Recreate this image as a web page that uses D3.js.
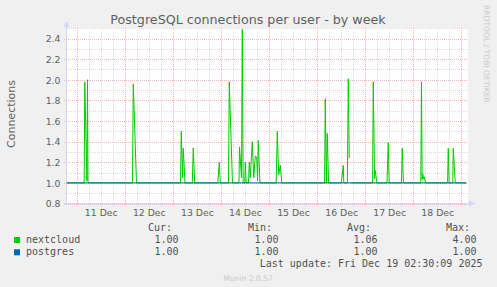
<!DOCTYPE html>
<html><head><meta charset="utf-8">
<script src="https://cdn.jsdelivr.net/npm/d3@7"></script>
<style>
html,body{margin:0;padding:0;background:#F0F0F0;}
svg{display:block;}
</style></head>
<body><svg id="c" width="497" height="287"></svg>
<script>
// ---- data (hours after 2025-12-11 00:00) ----
const nextcloudHours = [-5, 3.74, 4.04, 5.09, 5.39, 5.64, 27.85, 28.25, 29.85, 51.81, 52.21, 52.86, 53.21, 54.06, 57.70, 58.20, 58.90, 70.43, 71.18, 71.68, 75.77, 76.17, 77.77, 81.02, 81.27, 82.26, 82.66, 83.11, 83.91, 84.16, 84.61, 85.76, 86.16, 86.66, 87.66, 88.40, 89.15, 89.85, 90.30, 90.65, 91.50, 99.58, 100.13, 100.83, 101.63, 102.38, 123.75, 124.09, 124.64, 125.09, 125.74, 132.08, 133.08, 133.33, 135.13, 135.58, 136.08, 136.5, 137.0, 147.71, 148.06, 148.70, 149.05, 149.90, 154.89, 155.54, 155.99, 162.13, 162.53, 163.13, 171.77, 172.12, 172.46, 172.76, 173.16, 173.51, 174.11, 185.15, 185.50, 185.94, 187.74, 187.99, 188.99, 194.5];
const nextcloudValues = [1, 1, 1.98, 1.02, 2.00, 1, 1, 1.96, 1, 1, 1.50, 1.05, 1.335, 1, 1, 1.338, 1, 1, 1.20, 1, 1, 1.98, 1, 1, 1.35, 1.05, 2.49, 1, 1, 1.20, 1, 1, 1.20, 1.05, 1.40, 1.05, 1.26, 1.25, 1.02, 1.41, 1, 1, 1.50, 1.08, 1.17, 1, 1, 1.816, 1.0, 1.48, 1, 1, 1.17, 1, 1, 2.01, 1.24, null, 1, 1, 1.98, 1.04, 1.12, 1, 1, 1.39, 1, 1, 1.335, 1, 1, 1.98, 1.03, 1.085, 1.04, 1.06, 1, 1, 1.335, 1, 1, 1.335, 1, 1];
const postgresHours = [-5, 194.5];
const postgresValues = [1, 1];
const yTickValues = [0.8, 1.0, 1.2, 1.4, 1.6, 1.8, 2.0, 2.2, 2.4];
const dayLabels = ["11 Dec","12 Dec","13 Dec","14 Dec","15 Dec","16 Dec","17 Dec","18 Dec"];
const seriesNames = ["nextcloud", "postgres"];
const seriesColors = ["#00CC00", "#0066B3"];
const statHeaders = ["Cur:", "Min:", "Avg:", "Max:"];
const statsNextcloud = ["1.00", "1.00", "1.06", "4.00"];
const statsPostgres = ["1.00", "1.00", "1.00", "1.00"];

const base = Date.UTC(2025, 11, 11);
const t = h => new Date(base + h * 3600e3);

const svg = d3.select("#c");
const L = 66.7, R = 467.5, T = 28.2, B = 203.5;
const x = d3.scaleUtc().domain([t(-4.99), t(195.1)]).range([L, R]);
const y = d3.scaleLinear().domain([0.8, 2.5]).range([B, T]);

svg.append("rect").attr("width", 497).attr("height", 287).attr("fill", "#F0F0F0");
svg.append("rect").attr("x", 67).attr("y", 28).attr("width", 401).attr("height", 175.5).attr("fill", "#fff");

const minorC = "#dcdcdc", majorC = "#f0b4b4";
const grid = svg.append("g").attr("shape-rendering", "crispEdges");
// minor horizontal
d3.range(0.9, 2.51, 0.2).forEach(v => {
  grid.append("line").attr("x1", 67).attr("x2", 468).attr("y1", Math.round(y(v)) + 0.5).attr("y2", Math.round(y(v)) + 0.5)
    .attr("stroke", minorC).attr("stroke-dasharray", "1,1");
});
// minor vertical every 6h
const sixH = d3.utcHour.every(6).range(x.domain()[0], x.domain()[1]).filter(d => d.getUTCHours() !== 0);
sixH.forEach(d => {
  const xx = Math.round(x(d)) + 0.5;
  grid.append("line").attr("x1", xx).attr("x2", xx).attr("y1", 28).attr("y2", 205).attr("stroke", minorC).attr("stroke-dasharray", "1,1");
});
// major horizontal
yTickValues.forEach(v => {
  const yy = Math.round(y(v)) + 0.5;
  grid.append("line").attr("x1", 64).attr("x2", 468).attr("y1", yy).attr("y2", yy).attr("stroke", majorC).attr("stroke-dasharray", "1,1");
});
// major vertical at midnight
const days = d3.utcDay.range(x.domain()[0], x.domain()[1]);
days.forEach(d => {
  const xx = Math.round(x(d)) + 0.5;
  grid.append("line").attr("x1", xx).attr("x2", xx).attr("y1", 28).attr("y2", 206).attr("stroke", majorC).attr("stroke-dasharray", "1,1");
});

// axes lines + arrows
const axc = "#CFD6F8";
svg.append("line").attr("x1", 66.5).attr("x2", 66.5).attr("y1", 205).attr("y2", 24).attr("stroke", axc);
svg.append("line").attr("x1", 64).attr("x2", 470).attr("y1", 203.5).attr("y2", 203.5).attr("stroke", axc);
svg.append("path").attr("d", "M63.5,27 L69.5,27 L66.5,21 Z").attr("fill", axc);
svg.append("path").attr("d", "M469,200.5 L469,206.5 L475,203.5 Z").attr("fill", axc);

// series
function draw(hours, vals, color) {
  const pts = hours.map((h, i) => ({ d: t(h), v: vals[i] }));
  const line = d3.line().defined(p => p.v !== null).x(p => x(p.d)).y(p => y(p.v));
  svg.append("path").datum(pts).attr("d", line).attr("fill", "none").attr("stroke", color).attr("stroke-width", 1);
}
draw(nextcloudHours, nextcloudValues, seriesColors[0]);
draw(postgresHours, postgresValues, seriesColors[1]);

// y axis labels
const font = "DejaVu Sans", mono = "DejaVu Sans Mono", fc = "#606060", lc = "#505050";
const ya = svg.append("g").attr("transform", `translate(60.5,0)`)
  .call(d3.axisLeft(y).tickValues(yTickValues).tickFormat(d3.format(".1f")).tickSize(0).tickPadding(0));
ya.select(".domain").remove();
ya.selectAll("text").attr("font-family", font).attr("font-size", 9.3).attr("fill", fc).attr("dy", "0.35em");

// x axis labels at noon
const noons = dayLabels.map((s, i) => t(12 + 24 * i));
const xa = svg.append("g").attr("transform", `translate(0,209.5)`)
  .call(d3.axisBottom(x).tickValues(noons).tickFormat((d, i) => dayLabels[i]).tickSize(0).tickPadding(0));
xa.select(".domain").remove();
xa.selectAll("text").attr("font-family", font).attr("font-size", 9.3).attr("fill", fc).attr("dy", "0.71em");

// title
svg.append("text").attr("x", 248).attr("y", 24).attr("text-anchor", "middle").attr("font-family", font)
  .attr("font-size", 12.7).attr("fill", fc).text("PostgreSQL connections per user - by week");
// y title
svg.append("text").attr("transform", "translate(15,114) rotate(-90)").attr("text-anchor", "middle")
  .attr("font-family", font).attr("font-size", 11).attr("fill", fc).text("Connections");
// watermark
svg.append("text").attr("transform", "translate(484,5) rotate(90)").attr("text-anchor", "start")
  .attr("font-family", font).attr("font-size", 7.6).attr("fill", "#c8c8c8").text("RRDTOOL / TOBI OETIKER");

// legend
const colsEnd = [172, 272, 371, 470];
const valsEnd = [178.5, 278.5, 377.5, 476.5];
statHeaders.forEach((h, i) => svg.append("text").attr("x", colsEnd[i]).attr("y", 230.5).attr("text-anchor", "end")
  .attr("font-family", mono).attr("font-size", 10).attr("fill", lc).text(h));
[statsNextcloud, statsPostgres].forEach((row, r) => {
  const yy = 243 + r * 12.3;
  svg.append("rect").attr("x", 14).attr("y", yy - 6).attr("width", 6).attr("height", 6).attr("fill", seriesColors[r]);
  svg.append("text").attr("x", 26).attr("y", yy).attr("font-family", mono).attr("font-size", 10).attr("fill", lc).text(seriesNames[r]);
  row.forEach((v, i) => svg.append("text").attr("x", valsEnd[i]).attr("y", yy).attr("text-anchor", "end")
    .attr("font-family", mono).attr("font-size", 10).attr("fill", lc).text(v));
});
svg.append("text").attr("x", 482.5).attr("y", 267).attr("text-anchor", "end").attr("font-family", mono)
  .attr("font-size", 10).attr("fill", lc).text("Last update: Fri Dec 19 02:30:09 2025");
svg.append("text").attr("x", 248).attr("y", 281).attr("text-anchor", "middle").attr("font-family", font)
  .attr("font-size", 7.6).attr("fill", "#c8c8c8").text("Munin 2.0.57");
</script></body></html>
